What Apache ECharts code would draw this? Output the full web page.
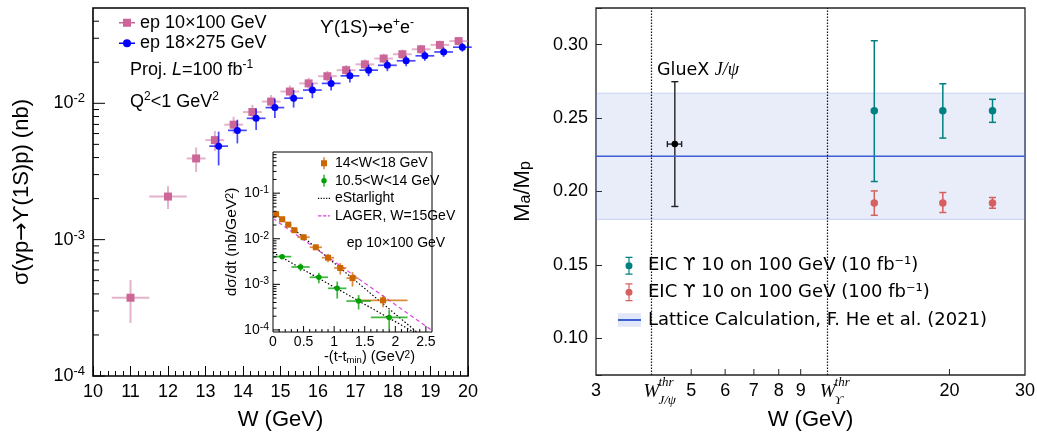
<!DOCTYPE html>
<html><head><meta charset="utf-8">
<script src="https://cdn.jsdelivr.net/npm/echarts@6/dist/echarts.min.js"></script>
<style>html,body{margin:0;padding:0;background:#fff}#c{width:1037px;height:432px}</style>
</head><body><div id="c"></div>
<script>
// ---------------- Left panel: sigma(gamma p -> Upsilon(1S) p) vs W ----------------
const wEp10      = [11, 12, 12.75, 13.25, 13.75, 14.25, 14.75, 15.25, 15.75, 16.25, 16.75, 17.25, 17.75, 18.25, 18.75, 19.25, 19.75];
const wErrEp10   = [0.5, 0.5, 0.25, 0.25, 0.25, 0.25, 0.25, 0.25, 0.25, 0.25, 0.25, 0.25, 0.25, 0.25, 0.25, 0.25, 0.25];
const sigEp10    = [3.75e-4, 2.07e-3, 3.94e-3, 5.37e-3, 6.97e-3, 8.63e-3, 1.03e-2, 1.22e-2, 1.40e-2, 1.58e-2, 1.75e-2, 1.93e-2, 2.13e-2, 2.29e-2, 2.49e-2, 2.68e-2, 2.86e-2];
const sigErrEp10 = [1.3e-4, 3.9e-4, 8.0e-4, 9.0e-4, 1.0e-3, 1.1e-3, 1.2e-3, 1.3e-3, 1.4e-3, 1.5e-3, 1.6e-3, 1.7e-3, 1.8e-3, 1.9e-3, 1.9e-3, 2.0e-3, 2.0e-3];

const wEp18      = [13.35, 13.85, 14.35, 14.85, 15.35, 15.85, 16.35, 16.85, 17.35, 17.85, 18.35, 18.85, 19.35, 19.85];
const wErrEp18   = [0.25, 0.25, 0.25, 0.25, 0.25, 0.25, 0.25, 0.25, 0.25, 0.25, 0.25, 0.25, 0.25, 0.25];
const sigEp18    = [4.85e-3, 6.33e-3, 7.76e-3, 9.3e-3, 1.09e-2, 1.25e-2, 1.40e-2, 1.59e-2, 1.75e-2, 1.90e-2, 2.05e-2, 2.23e-2, 2.38e-2, 2.58e-2];
const sigErrEp18 = [1.35e-3, 1.25e-3, 1.4e-3, 1.5e-3, 1.6e-3, 1.6e-3, 1.6e-3, 1.7e-3, 1.7e-3, 1.8e-3, 1.8e-3, 1.8e-3, 1.9e-3, 1.9e-3];

// ---------------- Inset: dsigma/dt vs -(t - tmin) ----------------
const tHigh       = [0.05, 0.15, 0.25, 0.35, 0.5, 0.7, 0.9, 1.1, 1.3, 1.8];
const tErrHigh    = [0.05, 0.05, 0.05, 0.05, 0.1, 0.1, 0.1, 0.1, 0.1, 0.4];
const dsdtHigh    = [0.0346, 0.0268, 0.0204, 0.0154, 0.0108, 6.5e-3, 3.84e-3, 2.28e-3, 1.37e-3, 4.45e-4];
const dsdtErrHigh = [1.7e-3, 1.3e-3, 1.2e-3, 1.1e-3, 8.6e-4, 7.8e-4, 7.7e-4, 6.4e-4, 4.8e-4, 1.3e-4];

const tLow        = [0.15, 0.45, 0.75, 1.05, 1.4, 1.9];
const tErrLow     = [0.15, 0.15, 0.15, 0.15, 0.2, 0.3];
const dsdtLow     = [4.05e-3, 2.40e-3, 1.43e-3, 8.17e-4, 4.30e-4, 1.88e-4];
const dsdtErrLow  = [3.6e-4, 4.6e-4, 3.7e-4, 3.3e-4, 1.5e-4, 8.5e-5];

const eStarlightHigh = [[0, 0.039], [2.35, 9.0e-5]];
const eStarlightLow  = [[0, 5.0e-3], [2.30, 9.0e-5]];
const lagerW15       = [[0, 0.028], [2.6, 9.7e-5]];

// ---------------- Right panel: Ma/Mp vs W ----------------
const glueXW = [4.58], glueXWLo = [4.40], glueXWHi = [4.75];
const glueXRatio = [0.2323], glueXLo = [0.1898], glueXHi = [0.2748];
const eicW = [13.36, 19.3, 25.2];
const eic10Ratio = [0.255, 0.255, 0.255], eic10Lo = [0.2068, 0.2364, 0.2471], eic10Hi = [0.3027, 0.2734, 0.2628];
const eic100Ratio = [0.1922, 0.1922, 0.1922], eic100Lo = [0.1838, 0.1857, 0.1886], eic100Hi = [0.2004, 0.1993, 0.1959];
const latticeCentral = 0.224, latticeLo = 0.181, latticeHi = 0.267;
const thrValues = [4.04, 10.4];
const thrSubs = ['J/ψ', 'ϒ'];
const rightXTickVals = [3, 5, 6, 7, 8, 9, 20, 30];
const rightXTickLabels = ['3', '5', '6', '7', '8', '9', '20', '30'];
const rightXTickMarks = [5, 6, 7, 8, 9, 20];

// ---------------- helpers ----------------
const FS = "'Liberation Sans', Arial, Helvetica, sans-serif";
const FD = "'DejaVu Sans', sans-serif";
const FSerif = "'Liberation Serif', 'DejaVu Serif', serif";

function rows(x, xe, y, ye) {
  return x.map((v, i) => [v, y[i], v - xe[i], v + xe[i], y[i] - ye[i], y[i] + ye[i]]);
}
function rowsLoHi(x, xlo, xhi, y, ylo, yhi) {
  return x.map((v, i) => [v, y[i], xlo[i], xhi[i], ylo[i], yhi[i]]);
}
function errorBar(cfg) {
  return function (params, api) {
    const x = api.value(0), y = api.value(1), xl = api.value(2), xh = api.value(3), yl = api.value(4), yh = api.value(5);
    const c = api.coord([x, y]);
    const kids = [];
    const ls = { stroke: cfg.err, lineWidth: cfg.lw };
    if (xh > xl) {
      const a = api.coord([xl, y]), b = api.coord([xh, y]);
      kids.push({ type: 'line', shape: { x1: a[0], y1: c[1], x2: b[0], y2: c[1] }, style: ls });
      if (cfg.xcap) {
        kids.push({ type: 'line', shape: { x1: a[0], y1: c[1] - cfg.xcap, x2: a[0], y2: c[1] + cfg.xcap }, style: ls });
        kids.push({ type: 'line', shape: { x1: b[0], y1: c[1] - cfg.xcap, x2: b[0], y2: c[1] + cfg.xcap }, style: ls });
      }
    }
    if (yh > yl) {
      const a = api.coord([x, yl]), b = api.coord([x, yh]);
      kids.push({ type: 'line', shape: { x1: c[0], y1: a[1], x2: c[0], y2: b[1] }, style: ls });
      if (cfg.ycap) {
        kids.push({ type: 'line', shape: { x1: c[0] - cfg.ycap, y1: a[1], x2: c[0] + cfg.ycap, y2: a[1] }, style: ls });
        kids.push({ type: 'line', shape: { x1: c[0] - cfg.ycap, y1: b[1], x2: c[0] + cfg.ycap, y2: b[1] }, style: ls });
      }
    }
    const s = cfg.size;
    if (cfg.marker === 'square') kids.push({ type: 'rect', shape: { x: c[0] - s / 2, y: c[1] - s / 2, width: s, height: s }, style: { fill: cfg.color } });
    else kids.push({ type: 'circle', shape: { cx: c[0], cy: c[1], r: s / 2 }, style: { fill: cfg.color } });
    return { type: 'group', children: kids };
  };
}
function yTicks(params, api) {
  const p = api.coord([api.value(0), api.value(1)]);
  return { type: 'line', shape: { x1: p[0], y1: p[1], x2: p[0] + api.value(2), y2: p[1] }, style: { stroke: '#000', lineWidth: 1 } };
}
function xTicks(color) {
  return function (params, api) {
    const p = api.coord([api.value(0), api.value(1)]);
    return { type: 'line', shape: { x1: p[0], y1: p[1], x2: p[0], y2: p[1] - api.value(2) }, style: { stroke: color, lineWidth: 1 } };
  };
}
function powLabel(v) {
  const l = Math.log10(v), e = Math.round(l);
  if (Math.abs(l - e) > 1e-6) return '';
  return '{b|10}{s|' + e + '}';
}

// tick positions for log axes
const mainYTicks = [];
for (let e = -4; e <= -2; e++) {
  mainYTicks.push([10, Math.pow(10, e), 12]);
  for (let k = 2; k <= 9; k++) { const v = k * Math.pow(10, e); if (v < 0.05) mainYTicks.push([10, v, 6]); }
}
const insetYTicks = [];
for (let e = -5; e <= -1; e++) {
  const p = Math.pow(10, e);
  if (p > 9e-5 && p < 0.8) insetYTicks.push([0, p, 7]);
  for (let k = 2; k <= 9; k++) { const v = k * p; if (v > 9e-5 && v < 0.8) insetYTicks.push([0, v, 3.5]); }
}
const insetXTicks = [];
for (let i = 1; i <= 25; i++) insetXTicks.push([i / 10, 9e-5, (i % 5 === 0) ? 6 : 3]);

// legend icons
const icPink = 'path://M0,3.3h16v1.4h-16z M4,0h8v8h-8z';
const icBlue = 'path://M0,3.3h16v1.4h-16z M12,4a4,4 0 1,1 -8,0a4,4 0 1,1 8,0z';
const icOrange = 'path://M2.4,0h1.2v12h-1.2z M0,3h6v6h-6z';
const icGreen = 'path://M2.1,0h1.2v12h-1.2z M5.4,6a2.7,2.7 0 1,1 -5.4,0a2.7,2.7 0 1,1 5.4,0z';
const icDotted = 'path://M0,0h1.2v1.2h-1.2z M2.7,0h1.2v1.2h-1.2z M5.4,0h1.2v1.2h-1.2z M8.1,0h1.2v1.2h-1.2z M10.8,0h1.2v1.2h-1.2z';
const icDashed = 'path://M0,0h3.5v1.2h-3.5z M5,0h3.5v1.2h-3.5z M10,0h2v1.2h-2z';
const icErr = 'path://M0,0h7v1.2h-7z M2.9,0h1.2v18h-1.2z M0,16.8h7v1.2h-7z M7,9a3.5,3.5 0 1,1 -7,0a3.5,3.5 0 1,1 7,0z';

const TEAL = '#008080', RED = '#d65f5f', LBLUE = '#3d5fd6';

const chart = echarts.init(document.getElementById('c'), null, { renderer: 'canvas' });
const option = {
  animation: false,
  backgroundColor: '#fff',
  grid: [
    { left: 93, top: 8, width: 375, height: 368, show: true, borderColor: '#000', borderWidth: 1.6, backgroundColor: 'transparent', containLabel: false, outerBoundsMode: 'none' },
    { left: 273, top: 152, width: 159, height: 180, show: true, borderColor: '#000', borderWidth: 1, backgroundColor: '#fff', containLabel: false, outerBoundsMode: 'none' },
    { left: 596, top: 8, width: 429, height: 367, show: true, borderColor: '#262626', borderWidth: 1.3, backgroundColor: 'transparent', containLabel: false, outerBoundsMode: 'none' }
  ],
  xAxis: [
    { gridIndex: 0, type: 'value', min: 10, max: 20, interval: 1,
      axisLine: { show: false }, splitLine: { show: false },
      axisTick: { show: true, inside: true, length: 10, lineStyle: { color: '#000', width: 1 } },
      minorTick: { show: true, splitNumber: 5, length: 5, lineStyle: { color: '#000', width: 1 } },
      axisLabel: { fontSize: 18, fontFamily: FS, color: '#000', margin: 7 },
      name: 'W (GeV)', nameLocation: 'middle', nameGap: 44,
      nameTextStyle: { fontSize: 22, fontFamily: FS, color: '#000', verticalAlign: 'middle' } },
    { gridIndex: 1, type: 'value', min: 0, max: 2.6, interval: 0.5,
      axisLine: { show: false }, splitLine: { show: false }, axisTick: { show: false }, minorTick: { show: false },
      axisLabel: { fontSize: 14, fontFamily: FS, color: '#000', margin: 3,
        formatter: v => (Math.abs(v * 2 - Math.round(v * 2)) < 1e-6 ? String(v) : '') },
      name: '-(t-t{sub|min}) (GeV{sup|2})', nameLocation: 'middle', nameGap: 21,
      nameTextStyle: { fontSize: 14.5, fontFamily: FS, color: '#000', verticalAlign: 'middle', padding: [0, 0, 0, 34],
        rich: { sub: { fontSize: 9.5, fontFamily: FS, color: '#000', verticalAlign: 'bottom', lineHeight: 9 },
                sup: { fontSize: 10, fontFamily: FS, color: '#000', verticalAlign: 'top', lineHeight: 10 } } } },
    { gridIndex: 2, type: 'log', logBase: 10, min: 3, max: 30,
      axisLine: { show: false }, splitLine: { show: false }, axisTick: { show: false }, minorTick: { show: false },
      axisLabel: { show: false },
      name: 'W (GeV)', nameLocation: 'middle', nameGap: 45,
      nameTextStyle: { fontSize: 22, fontFamily: FS, color: '#000', verticalAlign: 'middle' } }
  ],
  yAxis: [
    { gridIndex: 0, type: 'log', logBase: 10, min: 1e-4, max: 0.05,
      axisLine: { show: false }, splitLine: { show: false }, axisTick: { show: false }, minorTick: { show: false },
      axisLabel: { margin: 8, formatter: powLabel,
        rich: { b: { fontSize: 18, fontFamily: FS, color: '#000', lineHeight: 22 },
                s: { fontSize: 13, fontFamily: FS, color: '#000', lineHeight: 13, verticalAlign: 'top' } } },
      name: '{t|σ(γp}{a|→}{t|ϒ(1S)p) (nb)}', nameLocation: 'middle', nameRotate: 90, nameGap: 71,
      nameTextStyle: { fontSize: 22, fontFamily: FS, color: '#000', verticalAlign: 'middle',
        rich: { t: { fontSize: 22, fontFamily: FS, color: '#000' }, a: { fontSize: 22, fontFamily: FD, color: '#000' } } } },
    { gridIndex: 1, type: 'log', logBase: 10, min: 9e-5, max: 0.8,
      axisLine: { show: false }, splitLine: { show: false }, axisTick: { show: false }, minorTick: { show: false },
      axisLabel: { margin: 4, formatter: powLabel,
        rich: { b: { fontSize: 14, fontFamily: FS, color: '#000', lineHeight: 17 },
                s: { fontSize: 10.5, fontFamily: FS, color: '#000', lineHeight: 10, verticalAlign: 'top' } } },
      name: 'dσ/dt (nb/GeV{sup|2})', nameLocation: 'middle', nameRotate: 90, nameGap: 31.5,
      nameTextStyle: { fontSize: 15.5, fontFamily: FS, color: '#000', verticalAlign: 'middle',
        rich: { sup: { fontSize: 11, fontFamily: FS, color: '#000', verticalAlign: 'top', lineHeight: 10 } } } },
    { gridIndex: 2, type: 'value', min: 0.075, max: 0.325, splitNumber: 5,
      axisLine: { show: false }, splitLine: { show: false }, minorTick: { show: false },
      axisTick: { show: true, inside: true, length: 6, lineStyle: { color: '#262626', width: 1 } },
      axisLabel: { fontSize: 18, fontFamily: FS, color: '#000', margin: 8,
        formatter: v => { const k = v / 0.05; return Math.abs(k - Math.round(k)) < 1e-6 ? v.toFixed(2) : ''; } },
      name: 'M{sub|a}/M{sub|p}', nameLocation: 'middle', nameRotate: 90, nameGap: 73,
      nameTextStyle: { fontSize: 22, fontFamily: FS, color: '#000', verticalAlign: 'middle',
        rich: { sub: { fontSize: 16, fontFamily: FS, color: '#000', verticalAlign: 'bottom', lineHeight: 16 } } } }
  ],
  legend: [
    { orient: 'vertical', left: 119, top: 13.7, padding: 0, itemWidth: 16, itemHeight: 8, itemGap: 2.6, selectedMode: false,
      textStyle: { fontSize: 18, fontFamily: FS, color: '#000', lineHeight: 18 },
      data: [ { name: 'ep 10×100 GeV', icon: icPink, itemStyle: { color: '#cc6699', borderWidth: 0 } },
              { name: 'ep 18×275 GeV', icon: icBlue, itemStyle: { color: '#0000ff', borderWidth: 0 } } ] },
    { orient: 'vertical', left: 318, top: 156.3, padding: 0, itemWidth: 12, itemHeight: 12, itemGap: 3.5, selectedMode: false,
      textStyle: { fontSize: 14, fontFamily: FS, color: '#000', lineHeight: 14 },
      data: [ { name: '14<W<18 GeV', icon: icOrange, itemStyle: { color: '#cc6600', borderWidth: 0 } },
              { name: '10.5<W<14 GeV', icon: icGreen, itemStyle: { color: '#00a000', borderWidth: 0 } },
              { name: 'eStarlight', icon: icDotted, itemStyle: { color: '#000', borderWidth: 0 } },
              { name: 'LAGER, W=15GeV', icon: icDashed, itemStyle: { color: '#dd44dd', borderWidth: 0 } } ] },
    { orient: 'vertical', left: 612, top: 247, padding: [9.7, 10, 4, 13.5], backgroundColor: '#fff',
      itemWidth: 7, itemHeight: 18, itemGap: 8.6, selectedMode: false,
      textStyle: { fontSize: 18, fontFamily: FD, color: '#000', lineHeight: 18, padding: [0, 0, 0, 10.5] },
      data: [ { name: 'EIC ϒ 10 on 100 GeV (10 fb⁻¹)', icon: icErr, itemStyle: { color: TEAL, borderWidth: 0 } },
              { name: 'EIC ϒ 10 on 100 GeV (100 fb⁻¹)', icon: icErr, itemStyle: { color: RED, borderWidth: 0 } } ] },
    { orient: 'vertical', left: 612, top: 305.3, padding: [5.7, 10, 6, 6], backgroundColor: '#fff',
      itemWidth: 23, itemHeight: 13, selectedMode: false,
      textStyle: { fontSize: 18, fontFamily: FD, color: '#000', lineHeight: 18, padding: [0, 0, 0, 2] },
      data: [ { name: 'Lattice Calculation, F. He et al. (2021)', icon: 'rect',
                itemStyle: { borderWidth: 0, color: { type: 'linear', x: 0, y: 0, x2: 0, y2: 1, colorStops: [
                  { offset: 0, color: '#cdd7f4' }, { offset: 0.08, color: '#e1e7f8' }, { offset: 0.45, color: '#e1e7f8' },
                  { offset: 0.45, color: LBLUE }, { offset: 0.56, color: LBLUE }, { offset: 0.56, color: '#e1e7f8' },
                  { offset: 0.92, color: '#e1e7f8' }, { offset: 1, color: '#cdd7f4' } ] } } } ] }
  ],
  graphic: [
    { type: 'text', x: 320, y: 28, silent: true, style: { text: '{n|ϒ(1S)}{a|→}{n|e}{s|+}{n|e}{s|-}', verticalAlign: 'middle', align: 'left',
      rich: { n: { fontSize: 18, fontFamily: FS, fill: '#000', lineHeight: 22 }, a: { fontSize: 18, fontFamily: FD, fill: '#000', lineHeight: 22 },
              s: { fontSize: 12, fontFamily: FS, fill: '#000', lineHeight: 12, verticalAlign: 'top' } } } },
    { type: 'text', x: 130, y: 70, silent: true, style: { text: '{n|Proj. }{i|L}{n|=100 fb}{s|-1}', verticalAlign: 'middle', align: 'left',
      rich: { n: { fontSize: 18, fontFamily: FS, fill: '#000', lineHeight: 22 }, i: { fontSize: 18, fontFamily: FS, fontStyle: 'italic', fill: '#000', lineHeight: 22 },
              s: { fontSize: 12, fontFamily: FS, fill: '#000', lineHeight: 12, verticalAlign: 'top' } } } },
    { type: 'text', x: 130, y: 101.7, silent: true, style: { text: '{n|Q}{s|2}{n|<1 GeV}{s|2}', verticalAlign: 'middle', align: 'left',
      rich: { n: { fontSize: 18, fontFamily: FS, fill: '#000', lineHeight: 22 }, s: { fontSize: 12, fontFamily: FS, fill: '#000', lineHeight: 12, verticalAlign: 'top' } } } },
    { type: 'text', x: 346.7, y: 243.3, z: 10, silent: true, style: { text: 'ep 10×100 GeV', fontSize: 14, fontFamily: FS, fill: '#000', verticalAlign: 'middle', align: 'left' } },
    { type: 'text', x: 657, y: 70, silent: true, style: { text: '{n|GlueX }{j|J/ψ}', verticalAlign: 'middle', align: 'left',
      rich: { n: { fontSize: 17.5, fontFamily: FD, fill: '#000', lineHeight: 22 }, j: { fontSize: 18, fontFamily: FSerif, fontStyle: 'italic', fill: '#000', lineHeight: 22 } } } }
  ],
  series: [
    { type: 'custom', name: 'ep 10×100 GeV', xAxisIndex: 0, yAxisIndex: 0, silent: true, clip: false,
      itemStyle: { color: '#cc6699' }, encode: { x: [0, 2, 3], y: [1, 4, 5] },
      data: rows(wEp10, wErrEp10, sigEp10, sigErrEp10),
      renderItem: errorBar({ color: '#cc6699', err: 'rgba(204,102,153,0.5)', lw: 2, marker: 'square', size: 8 }) },
    { type: 'custom', name: 'ep 18×275 GeV', xAxisIndex: 0, yAxisIndex: 0, silent: true, clip: false,
      itemStyle: { color: '#0000ff' }, encode: { x: [0, 2, 3], y: [1, 4, 5] },
      data: rows(wEp18, wErrEp18, sigEp18, sigErrEp18),
      renderItem: errorBar({ color: '#0000ff', err: 'rgba(0,0,255,0.72)', lw: 1.7, marker: 'circle', size: 7 }) },
    { type: 'custom', name: 'mainYTicks', xAxisIndex: 0, yAxisIndex: 0, silent: true, clip: false,
      encode: { x: 0, y: 1 }, data: mainYTicks, renderItem: yTicks },

    { type: 'line', name: 'eStarlight', xAxisIndex: 1, yAxisIndex: 1, silent: true, symbol: 'none', z: 3,
      lineStyle: { color: '#000', width: 1.2, type: [1.5, 2] }, data: eStarlightHigh },
    { type: 'line', name: 'eStarlight', xAxisIndex: 1, yAxisIndex: 1, silent: true, symbol: 'none', z: 3,
      lineStyle: { color: '#000', width: 1.2, type: [1.5, 2] }, data: eStarlightLow },
    { type: 'line', name: 'LAGER, W=15GeV', xAxisIndex: 1, yAxisIndex: 1, silent: true, symbol: 'none', z: 3,
      lineStyle: { color: '#dd44dd', width: 1.2, type: [4, 3] }, data: lagerW15 },
    { type: 'custom', name: '14<W<18 GeV', xAxisIndex: 1, yAxisIndex: 1, silent: true, clip: false, z: 4,
      itemStyle: { color: '#cc6600' }, encode: { x: [0, 2, 3], y: [1, 4, 5] },
      data: rows(tHigh, tErrHigh, dsdtHigh, dsdtErrHigh),
      renderItem: errorBar({ color: '#cc6600', err: 'rgba(204,102,0,0.75)', lw: 1.7, marker: 'square', size: 6 }) },
    { type: 'custom', name: '10.5<W<14 GeV', xAxisIndex: 1, yAxisIndex: 1, silent: true, clip: false, z: 4,
      itemStyle: { color: '#00a000' }, encode: { x: [0, 2, 3], y: [1, 4, 5] },
      data: rows(tLow, tErrLow, dsdtLow, dsdtErrLow),
      renderItem: errorBar({ color: '#00a000', err: 'rgba(0,160,0,0.75)', lw: 1.7, marker: 'circle', size: 5.5 }) },
    { type: 'custom', name: 'insetYTicks', xAxisIndex: 1, yAxisIndex: 1, silent: true, clip: false, z: 4,
      encode: { x: 0, y: 1 }, data: insetYTicks, renderItem: yTicks },
    { type: 'custom', name: 'insetXTicks', xAxisIndex: 1, yAxisIndex: 1, silent: true, clip: false, z: 4,
      encode: { x: 0, y: 1 }, data: insetXTicks, renderItem: xTicks('#000') },

    { type: 'line', name: 'Lattice Calculation, F. He et al. (2021)', xAxisIndex: 2, yAxisIndex: 2, silent: true, symbol: 'none',
      lineStyle: { color: LBLUE, width: 1.6 }, itemStyle: { color: LBLUE },
      data: [[3, latticeCentral], [30, latticeCentral]],
      markArea: { silent: true, itemStyle: { color: 'rgba(100,130,220,0.14)', borderColor: 'rgba(100,130,220,0.3)', borderWidth: 1 },
        data: [[{ yAxis: latticeLo }, { yAxis: latticeHi }]] },
      markLine: { silent: true, symbol: ['none', 'none'], label: { show: false },
        lineStyle: { color: '#111', width: 1.2, type: [1.4, 1.6] },
        data: thrValues.map(v => ({ xAxis: v })) } },
    { type: 'custom', name: 'GlueX J/ψ', xAxisIndex: 2, yAxisIndex: 2, silent: true, clip: false,
      itemStyle: { color: '#000' }, encode: { x: [0, 2, 3], y: [1, 4, 5] },
      data: rowsLoHi(glueXW, glueXWLo, glueXWHi, glueXRatio, glueXLo, glueXHi),
      renderItem: errorBar({ color: '#000', err: '#222', lw: 1.4, marker: 'circle', size: 6.5, xcap: 3, ycap: 3.5 }) },
    { type: 'custom', name: 'EIC ϒ 10 on 100 GeV (10 fb⁻¹)', xAxisIndex: 2, yAxisIndex: 2, silent: true, clip: false,
      itemStyle: { color: TEAL }, encode: { x: 0, y: [1, 4, 5] },
      data: rowsLoHi(eicW, eicW, eicW, eic10Ratio, eic10Lo, eic10Hi),
      renderItem: errorBar({ color: TEAL, err: TEAL, lw: 1.5, marker: 'circle', size: 7.5, ycap: 3.5 }) },
    { type: 'custom', name: 'EIC ϒ 10 on 100 GeV (100 fb⁻¹)', xAxisIndex: 2, yAxisIndex: 2, silent: true, clip: false,
      itemStyle: { color: RED }, encode: { x: 0, y: [1, 4, 5] },
      data: rowsLoHi(eicW, eicW, eicW, eic100Ratio, eic100Lo, eic100Hi),
      renderItem: errorBar({ color: RED, err: RED, lw: 1.5, marker: 'circle', size: 7.5, ycap: 3.5 }) },
    { type: 'custom', name: 'rightXTicks', xAxisIndex: 2, yAxisIndex: 2, silent: true, clip: false,
      encode: { x: 0, y: 1 }, data: rightXTickMarks.map(v => [v, 0.075, 6]), renderItem: xTicks('#262626') },
    { type: 'custom', name: 'rightXLabels', xAxisIndex: 2, yAxisIndex: 2, silent: true, clip: false,
      encode: { x: 0, y: 1 }, data: rightXTickVals.map(v => [v, 0.075]),
      renderItem: function (params, api) {
        const p = api.coord([api.value(0), api.value(1)]);
        return { type: 'text', x: p[0], y: p[1] + 16.5,
          style: { text: rightXTickLabels[params.dataIndex], fontSize: 18, fontFamily: FS, fill: '#000', align: 'center', verticalAlign: 'middle' } };
      } },
    { type: 'custom', name: 'thresholdLabels', xAxisIndex: 2, yAxisIndex: 2, silent: true, clip: false,
      encode: { x: 0, y: 1 }, data: thrValues.map(v => [v, 0.075]),
      renderItem: function (params, api) {
        const p = api.coord([api.value(0), api.value(1)]);
        return { type: 'group', children: [
          { type: 'text', x: p[0], y: p[1] + 16.5, style: { text: 'W', fontSize: 19, fontFamily: FSerif, fontStyle: 'italic', fill: '#000', align: 'center', verticalAlign: 'middle' } },
          { type: 'text', x: p[0] + 7, y: p[1] + 8, style: { text: 'thr', fontSize: 13, fontFamily: FSerif, fontStyle: 'italic', fill: '#000', align: 'left', verticalAlign: 'middle' } },
          { type: 'text', x: p[0] + 7, y: p[1] + 26, style: { text: thrSubs[params.dataIndex], fontSize: 13, fontFamily: FSerif, fontStyle: 'italic', fill: '#000', align: 'left', verticalAlign: 'middle' } }
        ] };
      } }
  ]
};
chart.setOption(option);
</script>
</body></html>
